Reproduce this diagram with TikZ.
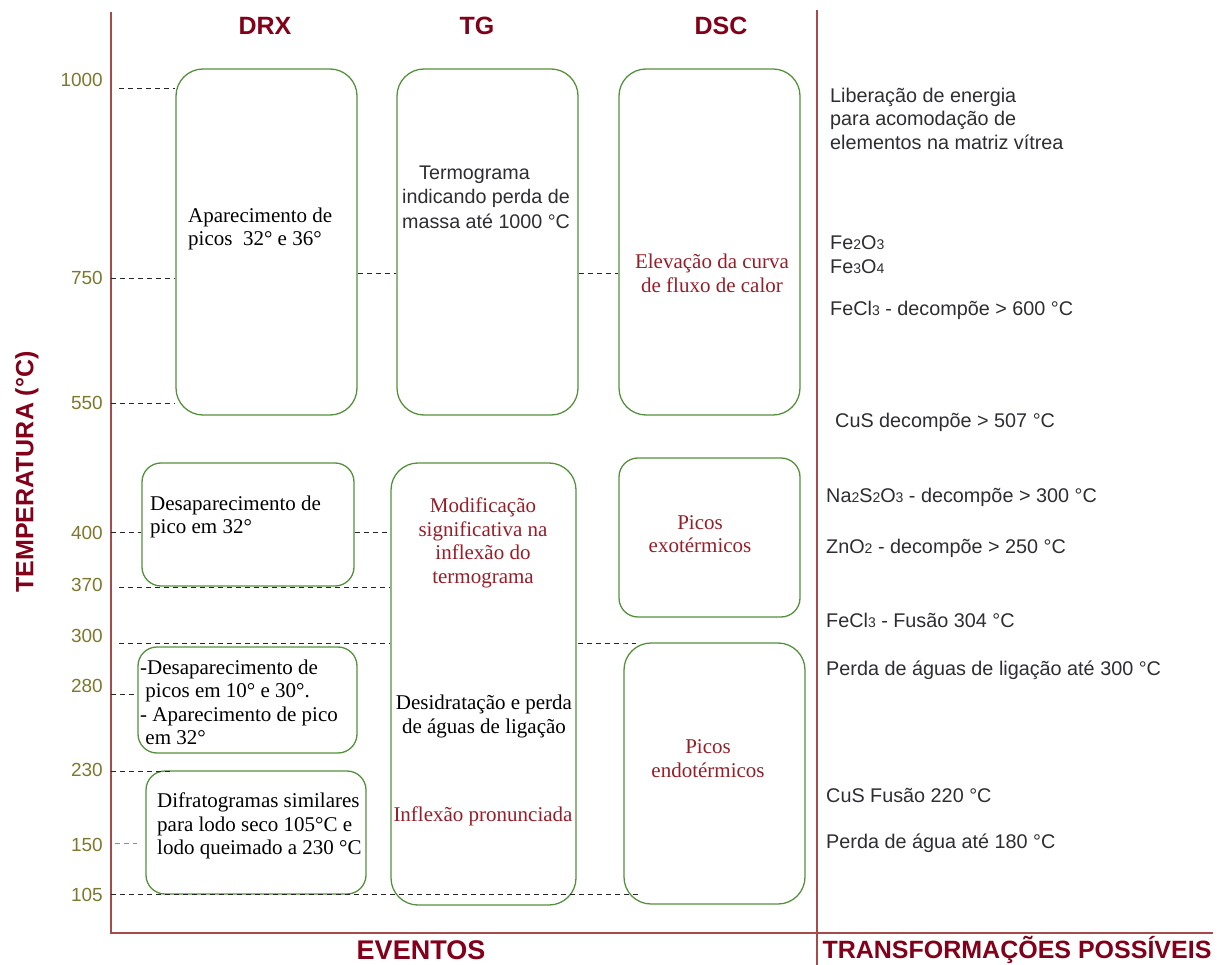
\documentclass[tikz,border=0pt]{standalone}
\usepackage{fontspec}
\setmainfont{Liberation Serif}
\setsansfont{Liberation Sans}
\usepackage{tikz}
\usetikzlibrary{positioning}
\definecolor{axisred}{RGB}{165,75,75}
\definecolor{titlered}{RGB}{130,0,25}
\definecolor{notered}{RGB}{150,30,40}
\definecolor{tickolive}{RGB}{125,120,45}
\definecolor{boxgreen}{RGB}{85,145,60}
\definecolor{textgrey}{RGB}{45,45,50}
\newcommand{\chemsub}[1]{{\fontsize{14}{14}\selectfont #1}}
\tikzstyle{axis}    = [draw=axisred,line width=1.8pt]
\tikzstyle{event}   = [draw=boxgreen,line width=1.3pt,rounded corners=27pt,inner sep=0pt]
\tikzstyle{smallev} = [event,rounded corners=19pt]
\tikzstyle{leader}  = [draw=black!85,line width=0.9pt,dash pattern=on 5pt off 4pt]
\tikzstyle{header}  = [font=\sffamily\bfseries\fontsize{25}{25}\selectfont,text=titlered]
\tikzstyle{tick}    = [anchor=east,inner sep=0pt,font=\sffamily\fontsize{19}{19}\selectfont,text=tickolive]
\tikzstyle{note}    = [inner sep=0pt,font=\fontsize{21}{23.5}\selectfont]
\tikzstyle{trans}   = [anchor=west,inner sep=0pt,align=left,text=textgrey,font=\sffamily\fontsize{19.8}{23.5}\selectfont]

\begin{document}
\begin{tikzpicture}[x=1pt,y=-1pt]
  \useasboundingbox (0,0) rectangle (1221,965);

  % Axes
  \coordinate (top) at (111,12);
  \coordinate (origin) at (111,933);
  \coordinate (right) at (1213,933);
  \draw[axis] (top) -- (origin) -- (right);
  \coordinate (sep-top) at (817,10);
  \coordinate (sep-bot) at (817,965);
  \draw[axis] (sep-top) -- (sep-bot);

  % Column headers and axis titles
  \node[header] (drx) at (265,26) {DRX};
  \node[header] (tg)  at (477,26) {TG};
  \node[header] (dsc) at (721,26) {DSC};
  \node[header,rotate=90] (temp) at (27,472) {TEMPERATURA (°C)};
  \node[header,font=\sffamily\bfseries\fontsize{27}{27}\selectfont] (eventos) at (421,950) {EVENTOS};
  \node[header] (transf) at (1017,950) {TRANSFORMAÇÕES POSSÍVEIS};

  % Temperature ticks
  \foreach \t/\y in {1000/80,750/278,550/403,400/533,370/585,300/636,280/686,230/770,150/845,105/895}
    \node[tick] (t\t) at (103,\y) {\t};

  % Event boxes
  \node[event,minimum width=181pt,minimum height=346pt] (drx1) at (266.5,242) {};
  \node[event,minimum width=181pt,minimum height=346pt] (tg1)  at (487.5,242) {};
  \node[event,minimum width=181pt,minimum height=346pt] (dsc1) at (709.5,242) {};
  \node[smallev,minimum width=212pt,minimum height=123pt] (drx2) at (248,524.5) {};
  \node[event,minimum width=185pt,minimum height=442pt] (tg2) at (483.5,684) {};
  \node[smallev,minimum width=181pt,minimum height=159pt] (dsc2) at (709.5,537.5) {};
  \node[event,minimum width=181pt,minimum height=261pt] (dsc3) at (714.5,773.5) {};
  \node[smallev,minimum width=219pt,minimum height=106pt] (drx3) at (247.5,700) {};
  \node[smallev,minimum width=220pt,minimum height=123pt] (drx4) at (256,832.5) {};

  % Texts inside the boxes
  \node[note,anchor=west,align=left] (drx1-txt) at (188,229) {Aparecimento de\\picos\ \ 32° e 36°};
  \node[note,anchor=west,align=left,text=textgrey,font=\sffamily\fontsize{19.7}{24.5}\selectfont] (tg1-txt) at (402,197)
    {\hspace{17pt}Termograma\\indicando perda de\\massa até 1000 °C};
  \node[note,align=center,text=notered] (dsc1-txt) at (712,273.5) {Elevação da curva\\de fluxo de calor};
  \node[note,anchor=west,align=left] (drx2-txt) at (150,517) {Desaparecimento de\\pico em 32°};
  \node[note,align=center,text=notered] (tg2-top) at (483,543) {Modificação\\significativa na\\inflexão do\\termograma};
  \node[note,align=center] (tg2-mid) at (484,716.5) {Desidratação e perda\\de águas de ligação};
  \node[note,align=center,text=notered] (tg2-bot) at (483,816) {Inflexão pronunciada};
  \node[note,align=center,text=notered] (dsc2-txt) at (700,534) {Picos\\exotérmicos};
  \node[note,align=center,text=notered] (dsc3-txt) at (708,758.5) {Picos\\endotérmicos};
  \node[note,anchor=west,align=left] (drx3-txt) at (140,702.5)
    {-Desaparecimento de\\\ picos em 10° e 30°.\\- Aparecimento de pico\\\ em 32°};
  \node[note,anchor=west,align=left] (drx4-txt) at (157,826)
    {Difratogramas similares\\para lodo seco 105°C e\\lodo queimado a 230 °C};

  % Possible transformations
  \node[trans] (tr-energia) at (830,118.5) {Liberação de energia\\para acomodação de\\elementos na matriz vítrea};
  \node[trans] (tr-oxidos) at (830,254.5) {Fe\chemsub{2}O\chemsub{3}\\Fe\chemsub{3}O\chemsub{4}};
  \node[trans] (tr-fecl-dec) at (830,310) {FeCl\chemsub{3} - decompõe > 600 °C};
  \node[trans] (tr-cus-dec) at (835,422) {CuS decompõe > 507 °C};
  \node[trans] (tr-na) at (826,497) {Na\chemsub{2}S\chemsub{2}O\chemsub{3} - decompõe > 300 °C};
  \node[trans] (tr-zn) at (826,548) {ZnO\chemsub{2} - decompõe > 250 °C};
  \node[trans] (tr-fecl-fus) at (826,620) {FeCl\chemsub{3} - Fusão 304 °C};
  \node[trans] (tr-ligacao) at (826,670) {Perda de águas de ligação até 300 °C};
  \node[trans] (tr-cus-fus) at (826,795) {CuS Fusão 220 °C};
  \node[trans] (tr-agua) at (826,843) {Perda de água até 180 °C};

  % Leader lines from the temperature axis
  \coordinate (l1000) at (119,88);
  \coordinate (l750) at (111,278);
  \coordinate (l550) at (111,403);
  \coordinate (l400) at (111,532);
  \coordinate (l370) at (119,587);
  \coordinate (l300) at (119,643);
  \coordinate (l280) at (111,694);
  \coordinate (l230) at (111,771);
  \coordinate (l150) at (115,843);
  \coordinate (l105) at (111,894);
  \draw[leader] (l1000) -- (drx1.west |- l1000);
  \draw[leader] (l750) -- (drx1.west |- l750);
  \draw[leader] (drx1.east |- 0,273) -- (tg1.west |- 0,273);
  \draw[leader] (tg1.east |- 0,273) -- (dsc1.west |- 0,273);
  \draw[leader] (l550) -- (drx1.west |- l550);
  \draw[leader] (l400) -- (drx2.west |- l400);
  \draw[leader] (drx2.east |- l400) -- (tg2.west |- l400);
  \draw[leader] (l370) -- (tg2.west |- l370);
  \draw[leader] (l300) -- (tg2.west |- l300);
  \draw[leader] (tg2.east |- l300) ++(1,0) -- (dsc3.west |- l300) -- ++(13,0);
  \draw[leader] (l280) -- (drx3.west |- l280);
  \draw[leader] (l230) -- (drx4.west |- l230) -- ++(26,0);
  \draw[leader,draw=black!45] (l150) -- (drx3.west |- l150);
  \draw[leader] (l105) -- (dsc3.west |- l105) -- ++(16,0);
\end{tikzpicture}
\end{document}
